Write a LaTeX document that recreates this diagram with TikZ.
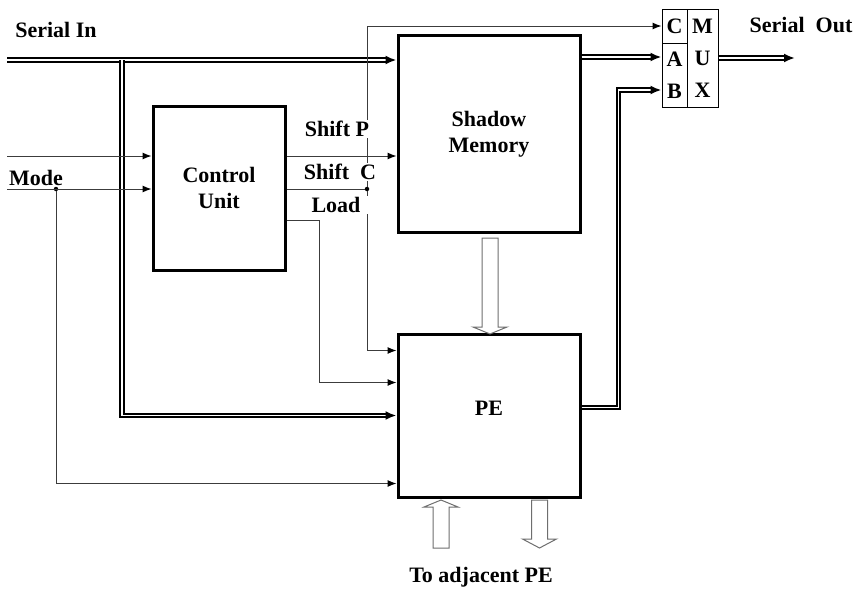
\documentclass[tikz,border=0pt]{standalone}
\usepackage{fontspec}
\setmainfont{Liberation Serif}
\usepackage{tikz}
\usetikzlibrary{positioning,arrows.meta,calc}
\newcommand{\figbody}{\rmfamily\bfseries\fontsize{22}{26}\selectfont}
\newcommand{\figtall}{\rmfamily\bfseries\fontsize{22}{32}\selectfont}
\definecolor{dgInk}{RGB}{0,0,0}
\definecolor{dgWire}{RGB}{60,60,60}
\definecolor{dgSoft}{RGB}{110,110,110}
\tikzset{
  blkBox/.style={draw=dgInk, line width=3pt, inner sep=0pt,
    align=center, font=\figbody, text=dgInk},
  muxCell/.style={draw=dgInk, line width=1pt, inner sep=0pt,
    align=center, font=\figbody},
  sigLine/.style={-{Latex[length=9pt,width=7pt,color=dgInk]}, line width=1pt,
    draw=dgWire, line join=miter},
  plainLine/.style={line width=1pt, draw=dgWire},
  busLine/.style={-{Latex[length=11pt,width=9pt]}, line width=2.1pt,
    draw=dgInk, double=white, double distance=1.7pt, line join=miter},
  hollowArr/.style={draw=dgSoft, fill=white, line width=1pt, line join=miter},
  tapDot/.style={circle, fill=dgInk, inner sep=0pt, minimum size=4.5pt},
  sigLabel/.style={font=\figbody, text=dgInk, fill=white, inner sep=1pt}
}
% hollow block arrows: x, start, tip, head height
\newcommand{\hollowDown}[4]{%
  \draw[hollowArr] (#1-8,#2) -- (#1-8,#3-#4) -- (#1-17,#3-#4) -- (#1,#3)
    -- (#1+17,#3-#4) -- (#1+8,#3-#4) -- (#1+8,#2) -- cycle;}
\newcommand{\hollowUp}[4]{%
  \draw[hollowArr] (#1-8,#2) -- (#1-8,#3+#4) -- (#1-17,#3+#4) -- (#1,#3)
    -- (#1+17,#3+#4) -- (#1+8,#3+#4) -- (#1+8,#2) -- cycle;}
\begin{document}
\begin{tikzpicture}[x=1pt,y=-1pt]
\useasboundingbox (0,0) rectangle (857,590);
% blocks
\node[blkBox,minimum width=132pt,minimum height=164pt] (ctrl) at (219,188) {Control\\Unit};
\node[blkBox,minimum width=182pt,minimum height=197pt] (shadow) at (489,134) {Shadow\\Memory};
\node[blkBox,minimum width=182pt,minimum height=163pt,text depth=14pt] (pe) at (489,415.5) {PE};
\node[muxCell,minimum width=25pt,minimum height=34pt] (muxC) at (674.5,26) {C};
\node[muxCell,minimum width=25pt,minimum height=64pt,font=\figtall] (muxAB) at (674.5,75) {A\\B};
\node[muxCell,minimum width=31pt,minimum height=98pt,font=\figtall] (muxR) at (702.5,58) {M\\U\\X};
% free ends and taps
\coordinate (sIn) at (7,60);
\coordinate (sBr) at (122,60);
\coordinate (inA) at (7,156);
\coordinate (inMode) at (7,189);
\coordinate (sOut) at (795,58);
\node[tapDot] (modeTap) at (56,189) {};
\node[tapDot] (cTap) at (367,189) {};
\coordinate (smOut) at ([yshift=-23pt]shadow.north east);
\coordinate (bIn) at ([yshift=-15pt]muxAB.west);
\coordinate (peOut) at ([yshift=8pt]pe.east);
% serial path
\draw[busLine] (sIn) -- (sIn -| shadow.west);
\draw[busLine] (sBr) |- (pe.west);
\draw[busLine] (smOut) -- (smOut -| muxAB.west);
\draw[busLine] (peOut) -- ++(37,0) |- (bIn);
\draw[busLine] (muxR.east |- sOut) -- (sOut);
% control wires
\draw[sigLine] (inA) -- (inA -| ctrl.west);
\draw[sigLine] (inMode) -- (inMode -| ctrl.west);
\draw[sigLine] (modeTap) |- ([yshift=15pt]pe.south west);
\draw[sigLine] (ctrl.east |- inA) -- (shadow.west |- inA);
\draw[plainLine] (ctrl.east |- inMode) -- (cTap);
\draw[sigLine] (cTap) |- (muxC.west);
\draw[sigLine] (cTap) |- ([yshift=-18pt]pe.north west);
\draw[sigLine] ([yshift=-116pt]ctrl.north east) -- ++(33,0) |- ([yshift=-50pt]pe.north west);
% data transfer arrows
\hollowDown{490}{238}{334}{7}
\hollowUp{441}{548}{500}{7}
\hollowDown{539.5}{500}{548}{9}
% labels
\node[sigLabel] (lShiftP) at (337,129) {Shift P};
\node[sigLabel] (lShiftC) at (340,172) {Shift\ \ C};
\node[sigLabel,minimum width=74pt] (lLoad) at (336,205) {Load};
\node[font=\figbody] (lSerIn) at (56,30) {Serial In};
\node[font=\figbody] (lMode) at (36,178) {Mode};
\node[font=\figbody] (lSerOut) at (801,25) {Serial\ \ Out};
\node[font=\figbody] (lAdj) at (481,577) {To adjacent PE};
\end{tikzpicture}
\end{document}
